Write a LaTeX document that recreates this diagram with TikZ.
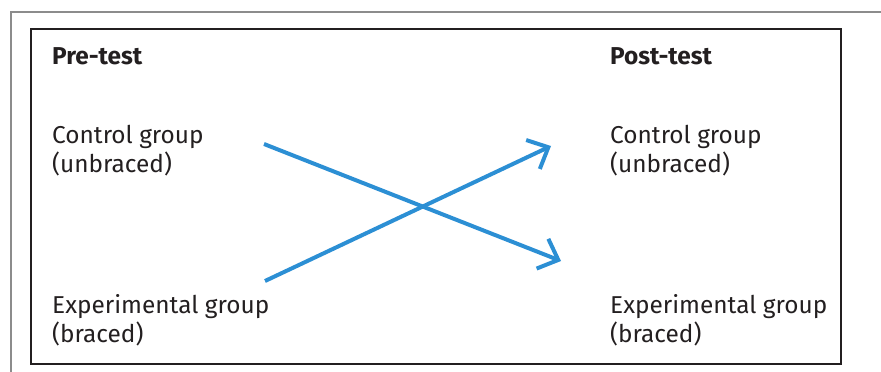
\documentclass[tikz,border=0pt]{standalone}
\usepackage{fontspec}
\setmainfont{Fira Sans}
\usetikzlibrary{arrows.meta}
\definecolor{arrowblue}{RGB}{44,143,212}
\definecolor{framedark}{RGB}{35,31,32}
\definecolor{framegray}{RGB}{140,140,140}
\begin{document}
\begin{tikzpicture}[x=1pt,y=-1pt,
  lbl/.style={anchor=base west,inner sep=0pt,align=left,text=framedark,
    font=\fontsize{24.4}{29}\selectfont},
  head/.style={lbl,font=\fontsize{24.4}{29}\selectfont\bfseries},
  flow/.style={draw=arrowblue,line width=4pt,
    -{Straight Barb[length=17pt,width=32pt]}}]
\useasboundingbox (0,0) rectangle (881,372);
\draw[framegray,line width=1.5pt] (881,12) -- (11,12) -- (11,372);
\draw[framedark,line width=2pt] (31,29) rectangle (841,364);
\node[head] (pre) at (52,64) {Pre-test};
\node[head] (post) at (610,64) {Post-test};
\node[lbl] (cpre) at (52,172) {Control group\\(unbraced)};
\node[lbl] (epre) at (52,342) {Experimental group\\(braced)};
\node[lbl] (cpost) at (610,172) {Control group\\(unbraced)};
\node[lbl] (epost) at (610,342) {Experimental group\\(braced)};
\coordinate (s1) at (264,144);
\coordinate (t1) at (561,261);
\coordinate (s2) at (265,281);
\coordinate (t2) at (551,146);
\draw[flow] (s1) -- (t1);
\draw[flow] (s2) -- (t2);
\end{tikzpicture}
\end{document}
